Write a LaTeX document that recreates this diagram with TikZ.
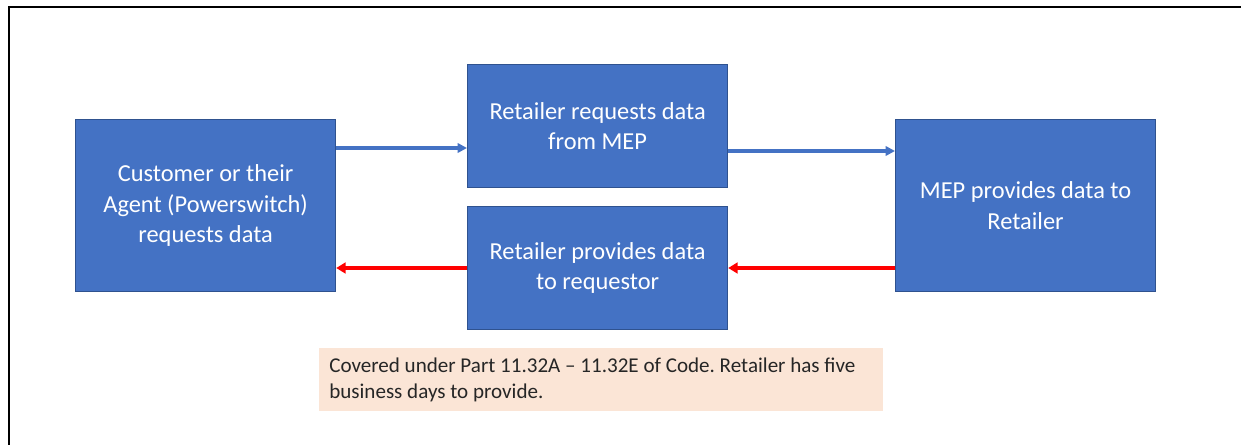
\documentclass[tikz,border=0pt]{standalone}
\usepackage{fontspec}
\setmainfont{Carlito}
\usetikzlibrary{arrows.meta}
\definecolor{boxfill}{HTML}{4472C4}
\definecolor{boxline}{HTML}{2F528F}
\definecolor{notefill}{HTML}{FBE5D6}
\definecolor{arrblue}{HTML}{4472C4}
\definecolor{arrred}{HTML}{FF0000}
\tikzset{
  procbox/.style={draw=boxline, line width=0.9pt, fill=boxfill, text=white,
    font=\fontsize{18.3}{22.7}\selectfont, align=center, inner sep=0pt,
    minimum width=195pt, anchor=north west},
  notebox/.style={fill=notefill, draw=none, font=\fontsize{15.8}{19}\selectfont\frenchspacing,
    text=black!85, align=flush left, inner sep=0pt, anchor=north west,
    minimum width=423pt, minimum height=47.25pt, text width=408pt},
  bluearrow/.style={draw=arrblue, line width=2.5pt, -{Triangle[length=7pt,width=7pt]}},
  redarrow/.style={draw=arrred, line width=2.8pt, -{Triangle[length=7pt,width=8pt]}}
}
\begin{document}
\begin{tikzpicture}[x=0.75pt,y=-0.75pt]
\useasboundingbox (0,0) rectangle (1241,445);
\fill[white] (0,0) rectangle (1241,445);
\draw[line width=1.5pt, black] (9,445) -- (9,7) -- (1241,7);
\node[procbox, minimum height=129pt] (cust) at (75,119) {\vphantom{g}Customer or their\\Agent (Powerswitch)\\requests data};
\node[procbox, minimum height=92.25pt] (req) at (467,64) {Retailer requests data\\from MEP};
\node[procbox, minimum height=92.25pt] (prov) at (467,206) {Retailer provides data\\to requestor};
\node[procbox, minimum height=129pt] (mep) at (895,119) {MEP provides data to\\Retailer};
\node[notebox] (note) at (319,348) {Covered under Part 11.32A -- 11.32E of Code. Retailer has five business days to provide.};
\draw[bluearrow] (cust.east |- 0,148) -- (req.west |- 0,148);
\draw[bluearrow] (req.east |- 0,151) -- (mep.west |- 0,151);
\draw[redarrow] (mep.west |- 0,268) -- (prov.east |- 0,268);
\draw[redarrow] (prov.west |- 0,268) -- (cust.east |- 0,268);
\end{tikzpicture}
\end{document}
